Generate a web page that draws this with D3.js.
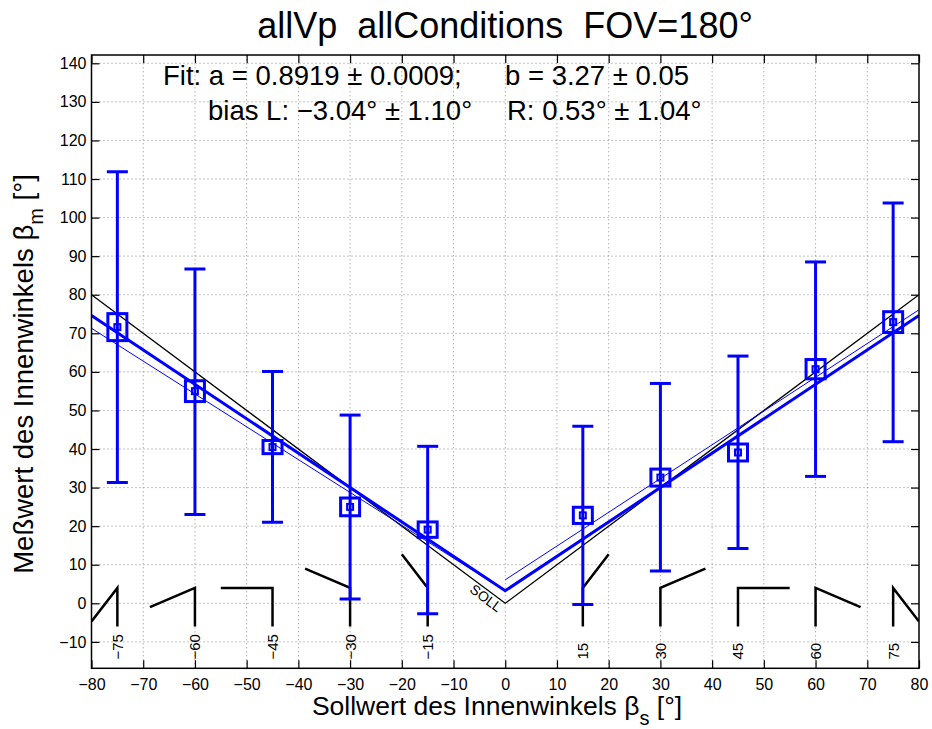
<!DOCTYPE html>
<html>
<head>
<meta charset="utf-8">
<script src="https://cdn.jsdelivr.net/npm/d3@7"></script>
<style>
  body { margin: 0; background: #fff; }
  text { font-family: "Liberation Sans", Arial, Helvetica, sans-serif; fill: #000; }
</style>
</head>
<body>
<div id="chart"></div>
<script>
// target angles (x) and the measured values
var angles   = [-75, -60, -45, -30, -15, 15, 30, 45, 60, 75];
var means    = [71.6, 55.0, 40.5, 25.0, 19.1, 22.8, 32.6, 39.1, 60.7, 72.9];
var errLow   = [31.3, 23.0, 21.0, 1.1, -2.7, -0.3, 8.4, 14.2, 32.9, 41.9];
var errHigh  = [111.9, 86.7, 60.1, 48.8, 40.7, 45.9, 57.0, 64.1, 88.5, 103.8];
var boxHalf  = [3.5, 2.7, 1.7, 2.3, 2.0, 2.1, 2.2, 2.2, 2.5, 2.7];

// reference (SOLL) and fitted lines
var sollX = [-80, 0, 80],  sollY = [80, 0, 80];
var fitX  = [-80, 0, 80],  fitY  = [74.6, 3.27, 74.6];
var fitLX = [-80, 0],      fitLY = [71.3, 3.2];
var fitRX = [0, 80],       fitRY = [6.1, 76.1];

// little angle pictograms: stem and arm end points (data units)
var stemTop = 4, stemBottom = -6;
var armEndX = [-80, -68.7, -55, -38.7, -20, 20, 38.7, 55, 68.7, 80];
var armEndY = [-4.7, -1.0, 4, 9.0, 12.7, 12.7, 9.0, 4, -1.0, -4.7];
var glyphLabelY = -14.6;

var xTicks = d3.range(-80, 81, 10);
var yTicks = d3.range(-10, 141, 10);

var fullWidth = 932, fullHeight = 729;
var x = d3.scaleLinear().domain([-80, 80]).range([91.5, 919]);
var y = d3.scaleLinear().domain([-16.85, 142.15]).range([668.3, 55]);

var svg = d3.select('#chart').append('svg')
  .attr('width', fullWidth).attr('height', fullHeight);
svg.append('rect').attr('width', fullWidth).attr('height', fullHeight).attr('fill', '#fff');

svg.append('clipPath').attr('id', 'plotClip').append('rect')
  .attr('x', x(-80)).attr('y', y(142.15))
  .attr('width', x(80) - x(-80)).attr('height', y(-16.85) - y(142.15));

// grid
var grid = svg.append('g').attr('stroke', '#888').attr('stroke-width', 1)
  .attr('stroke-dasharray', '1,3');
grid.selectAll('.gx').data(xTicks.slice(1, -1)).enter().append('line')
  .attr('x1', function(d){ return x(d); }).attr('x2', function(d){ return x(d); })
  .attr('y1', y.range()[0]).attr('y2', y.range()[1]);
grid.selectAll('.gy').data(yTicks).enter().append('line')
  .attr('y1', function(d){ return y(d); }).attr('y2', function(d){ return y(d); })
  .attr('x1', x.range()[0]).attr('x2', x.range()[1]);

var plot = svg.append('g').attr('clip-path', 'url(#plotClip)');

// pictograms
var glyphs = plot.append('g').attr('stroke', '#000').attr('stroke-width', 2.5).attr('fill', 'none');
angles.forEach(function(a, i){
  glyphs.append('path')
    .attr('d', 'M' + x(armEndX[i]) + ',' + y(armEndY[i]) + 'L' + x(a) + ',' + y(stemTop) + 'L' + x(a) + ',' + y(stemBottom));
});

var line = d3.line().x(function(d){ return x(d[0]); }).y(function(d){ return y(d[1]); });
function pairs(xs, ys){ return xs.map(function(v, i){ return [v, ys[i]]; }); }

plot.append('path').datum(pairs(sollX, sollY)).attr('d', line)
  .attr('fill', 'none').attr('stroke', '#000').attr('stroke-width', 1.3);
plot.append('path').datum(pairs(fitLX, fitLY)).attr('d', line)
  .attr('fill', 'none').attr('stroke', '#0000ff').attr('stroke-width', 1);
plot.append('path').datum(pairs(fitRX, fitRY)).attr('d', line)
  .attr('fill', 'none').attr('stroke', '#0000ff').attr('stroke-width', 1);
plot.append('path').datum(pairs(fitX, fitY)).attr('d', line)
  .attr('fill', 'none').attr('stroke', '#0000ff').attr('stroke-width', 3);

// error bars + boxes
var eb = plot.append('g').attr('stroke', '#0000ff').attr('stroke-width', 3).attr('fill', 'none');
angles.forEach(function(a, i){
  var cx = x(a);
  eb.append('line').attr('x1', cx).attr('x2', cx).attr('y1', y(errLow[i])).attr('y2', y(errHigh[i]));
  eb.append('line').attr('x1', cx - 10.5).attr('x2', cx + 10.5).attr('y1', y(errLow[i])).attr('y2', y(errLow[i]));
  eb.append('line').attr('x1', cx - 10.5).attr('x2', cx + 10.5).attr('y1', y(errHigh[i])).attr('y2', y(errHigh[i]));
  eb.append('rect').attr('x', cx - 9.5).attr('width', 19)
    .attr('y', y(means[i] + boxHalf[i])).attr('height', y(means[i] - boxHalf[i]) - y(means[i] + boxHalf[i]));
  eb.append('rect').attr('x', cx - 3).attr('width', 6).attr('stroke-width', 2)
    .attr('y', y(means[i]) - 3).attr('height', 6);
});

// SOLL label, sitting just under the reference line
svg.append('text')
  .attr('transform', 'translate(486,598) rotate(36.7)')
  .attr('text-anchor', 'middle').attr('dominant-baseline', 'central')
  .style('font-size', '14px').text('SOLL');

// pictogram labels
svg.append('g').selectAll('text').data(angles).enter().append('text')
  .attr('transform', function(d){ return 'translate(' + x(d) + ',' + y(glyphLabelY) + ') rotate(-90)'; })
  .attr('dominant-baseline', 'central')
  .style('font-size', '15px')
  .text(function(d){ return d < 0 ? '\u2212' + (-d) : d; });

// axes with inward ticks on all four sides
var gx = svg.append('g').attr('transform', 'translate(0,' + y.range()[0] + ')')
  .call(d3.axisBottom(x).tickValues(xTicks).tickSizeInner(-8).tickSizeOuter(0).tickPadding(10));
var gxt = svg.append('g').attr('transform', 'translate(0,' + y.range()[1] + ')')
  .call(d3.axisTop(x).tickValues(xTicks).tickSizeInner(-8).tickSizeOuter(0).tickFormat(''));
var gy = svg.append('g').attr('transform', 'translate(' + x.range()[0] + ',0)')
  .call(d3.axisLeft(y).tickValues(yTicks).tickSizeInner(-8).tickSizeOuter(0).tickPadding(5));
var gyr = svg.append('g').attr('transform', 'translate(' + x.range()[1] + ',0)')
  .call(d3.axisRight(y).tickValues(yTicks).tickSizeInner(-8).tickSizeOuter(0).tickFormat(''));
[gx, gxt, gy, gyr].forEach(function(g){
  g.select('.domain').remove();
  g.selectAll('line').attr('stroke', '#000').attr('stroke-width', 1.2);
  g.selectAll('text').style('font-size', '16px').style('font-family', '"Liberation Sans", Arial, sans-serif').attr('fill', '#000');
});
svg.append('rect')
  .attr('x', x.range()[0]).attr('y', y.range()[1])
  .attr('width', x.range()[1] - x.range()[0]).attr('height', y.range()[0] - y.range()[1])
  .attr('fill', 'none').attr('stroke', '#000').attr('stroke-width', 1.5);

// title
svg.append('text').attr('x', 505).attr('y', 38).attr('text-anchor', 'middle')
  .style('font-size', '36px').style('white-space', 'pre')
  .text('allVp  allConditions  FOV=180\u00b0');

// fit annotations
svg.append('text').attr('x', 163).attr('y', 85).style('font-size', '27.5px')
  .text('Fit: a = 0.8919 \u00b1 0.0009;');
svg.append('text').attr('x', 505).attr('y', 85).style('font-size', '27.5px')
  .text('b = 3.27 \u00b1 0.05');
svg.append('text').attr('x', 208).attr('y', 120).style('font-size', '27.5px')
  .text('bias L: \u22123.04\u00b0 \u00b1 1.10\u00b0');
svg.append('text').attr('x', 507).attr('y', 120).style('font-size', '27.5px')
  .text('R: 0.53\u00b0 \u00b1 1.04\u00b0');

// axis labels
var xl = svg.append('text').attr('x', 497).attr('y', 715).attr('text-anchor', 'middle')
  .style('font-size', '26.5px');
xl.append('tspan').text('Sollwert des Innenwinkels \u03b2');
xl.append('tspan').attr('dy', 10).style('font-size', '20px').text('s');
xl.append('tspan').attr('dy', -10).text(' [\u00b0]');

var yl = svg.append('text').attr('transform', 'translate(33,374) rotate(-90)')
  .attr('text-anchor', 'middle').style('font-size', '27.5px');
yl.append('tspan').text('Me\u00dfwert des Innenwinkels \u03b2');
yl.append('tspan').attr('dy', 10).style('font-size', '20px').text('m');
yl.append('tspan').attr('dy', -10).text(' [\u00b0]');
</script>
</body>
</html>
